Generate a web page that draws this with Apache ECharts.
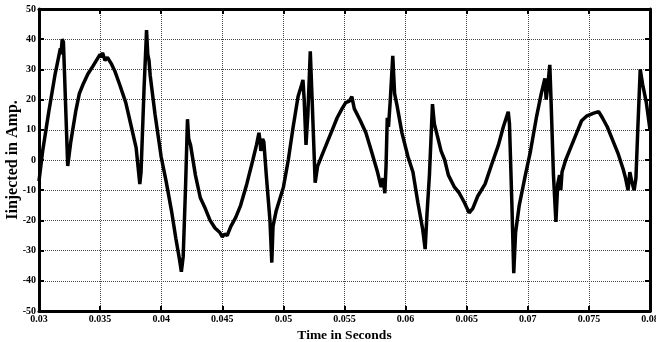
<!DOCTYPE html>
<html>
<head>
<meta charset="utf-8">
<script src="https://cdn.jsdelivr.net/npm/echarts@6/dist/echarts.min.js"></script>
<style>
  html, body { margin: 0; padding: 0; background: #fff; }
  #chart { width: 656px; height: 342px; }
</style>
</head>
<body>
<div id="chart"></div>
<script>
// Injected current waveform, time in milliseconds and current in amperes
const timeMs = [
  30.00, 30.30, 30.80, 31.30, 31.60, 31.75, 31.80, 31.90, 32.00, 32.35,
  32.60, 33.00, 33.30, 33.60, 34.00, 34.40, 34.70, 35.00, 35.10, 35.20,
  35.40, 35.60, 35.90, 36.20, 36.60, 37.10, 37.50, 37.95, 38.25, 38.35,
  38.60, 38.75, 38.80, 38.90, 39.00, 39.10, 39.50, 40.00, 40.40, 40.85,
  41.20, 41.50, 41.65, 41.80, 42.00, 42.15, 42.25, 42.40, 42.80, 43.20,
  43.60, 44.00, 44.40, 44.80, 45.00, 45.20, 45.40, 45.70, 46.10, 46.50,
  47.00, 47.50, 47.80, 48.00, 48.10, 48.15, 48.30, 48.40, 48.60, 48.90,
  49.05, 49.15, 49.40, 49.70, 50.00, 50.40, 50.80, 51.20, 51.50, 51.60,
  51.70, 51.85, 52.00, 52.20, 52.35, 52.60, 52.80, 53.20, 53.60, 54.00,
  54.40, 54.80, 55.10, 55.40, 55.60, 55.80, 56.30, 56.75, 57.20, 57.70,
  58.00, 58.15, 58.30, 58.40, 58.50, 58.60, 58.75, 58.95, 59.10, 59.30,
  59.70, 60.20, 60.60, 61.00, 61.40, 61.60, 61.75, 61.95, 62.20, 62.35,
  62.60, 62.90, 63.20, 63.50, 64.00, 64.40, 64.80, 65.20, 65.50, 65.90,
  66.50, 67.00, 67.60, 68.00, 68.40, 68.50, 68.70, 68.85, 69.00, 69.30,
  69.80, 70.20, 70.70, 71.10, 71.40, 71.50, 71.65, 71.80, 71.90, 72.10,
  72.30, 72.45, 72.60, 72.70, 72.80, 73.10, 73.50, 74.00, 74.40, 74.80,
  75.10, 75.40, 75.80, 76.10, 76.50, 77.00, 77.40, 77.80, 78.00, 78.20,
  78.35, 78.50, 78.70, 78.85, 79.00, 79.20, 79.40, 79.70, 80.00
];
const currentAmp = [
   -7,    3,   16,   28,   34,   37,   35,   40,   39,   -2,
    6,   16,   22,   25, 28.5,   31,   33,   35,   34, 35.5,
   33,   34,   32, 29.5,   25,   19,   12,    4,   -8,   -4,
   24,   38,   43,   35,   33,   28,   15,    1,   -7,  -17,
  -26,  -33,  -37,  -32,   -8, 13.5,    7,    5,   -5, -12.5,
  -16,  -20, -22.5,  -24, -25.5, -24.5,  -25,  -22,  -19,  -15,
   -8,    0,    5,    9,    6,    3,    7,    6,   -5,  -20,
  -34,  -22,  -17,  -13,   -9,    0,   11,   21,   25, 26.5,
   20,    5,   15,   36,   20, -7.5,   -2,    2,    6,   10,
   14,   17,   19, 19.5,   21,   17,   13,    9,    3,   -4,
   -9,   -6,  -11,   -2,   14,   11,   20, 34.5,   22,   18,
    9,    1,   -4,  -14,  -23, -29.5,  -18,   -5, 18.5,   12,
    8,    3,    0,   -5,   -9,  -11,  -14, -17.5,  -16,  -12,
   -8,   -2,    5,   11,   16,   12,  -15, -37.5,  -24,  -15,
   -5,  2.5,   14,   22,   27,   20,   25, 31.5,   20,   -5,
 -20.5,   -8,   -5,  -10,   -4,    0,    4,    9,   13, 14.5,
   15, 15.5,   16,   14,   11,    6,    2,   -3,   -6,  -10,
   -4,   -7,  -10,   -6,   10,   30,   25,   19,   10
];
const xTickLabels = ['0.03', '0.035', '0.04', '0.045', '0.05', '0.055', '0.06', '0.065', '0.07', '0.075', '0.08'];
const yTickLabels = ['-50', '-40', '-30', '-20', '-10', '0', '10', '20', '30', '40', '50'];

const FONT = '"Liberation Serif", "Times New Roman", serif';
const points = timeMs.map((t, i) => [t, currentAmp[i]]);

const gridLine = { show: true, lineStyle: { color: '#444', width: 1, type: [1, 1] } };
const frameLine = { show: true, onZero: false, lineStyle: { color: '#000', width: 3 } };
const innerTick = { show: true, inside: true, length: 5, lineStyle: { color: '#000', width: 2 } };

const chart = echarts.init(document.getElementById('chart'), null, { renderer: 'canvas' });
chart.setOption({
  animation: false,
  backgroundColor: '#fff',
  grid: { left: 39, right: 6, top: 9, bottom: 31, containLabel: false, outerBoundsMode: 'none' },
  xAxis: [
    {
      type: 'value', min: 30, max: 80, interval: 5,
      name: 'Time in Seconds', nameLocation: 'middle', nameGap: 17,
      nameTextStyle: { fontFamily: FONT, fontWeight: 'bold', fontSize: 13.5, color: '#000' },
      axisLine: frameLine, axisTick: innerTick, splitLine: gridLine,
      axisLabel: {
        margin: 3, fontFamily: FONT, fontWeight: 'bold', fontSize: 10, color: '#000',
        formatter: v => xTickLabels[Math.round((v - 30) / 5)]
      }
    },
    {
      type: 'value', position: 'top', min: 30, max: 80, interval: 5,
      axisLine: frameLine, axisTick: innerTick, axisLabel: { show: false }, splitLine: { show: false }
    }
  ],
  yAxis: [
    {
      type: 'value', min: -50, max: 50, interval: 10,
      name: 'Iinjected in Amp.', nameLocation: 'middle', nameGap: 18, nameMoveOverlap: false,
      nameTextStyle: { fontFamily: FONT, fontWeight: 'bold', fontSize: 16, color: '#000' },
      axisLine: frameLine, axisTick: innerTick, splitLine: gridLine,
      axisLabel: {
        margin: 3, fontFamily: FONT, fontWeight: 'bold', fontSize: 10, color: '#000',
        formatter: v => yTickLabels[Math.round((v + 50) / 10)]
      }
    },
    {
      type: 'value', position: 'right', min: -50, max: 50, interval: 10,
      axisLine: frameLine, axisTick: innerTick, axisLabel: { show: false }, splitLine: { show: false }
    }
  ],
  series: [
    {
      type: 'line', xAxisIndex: 0, yAxisIndex: 0,
      data: points, showSymbol: false, smooth: false,
      lineStyle: { color: '#000', width: 3.5 }
    }
  ]
});
</script>
</body>
</html>
